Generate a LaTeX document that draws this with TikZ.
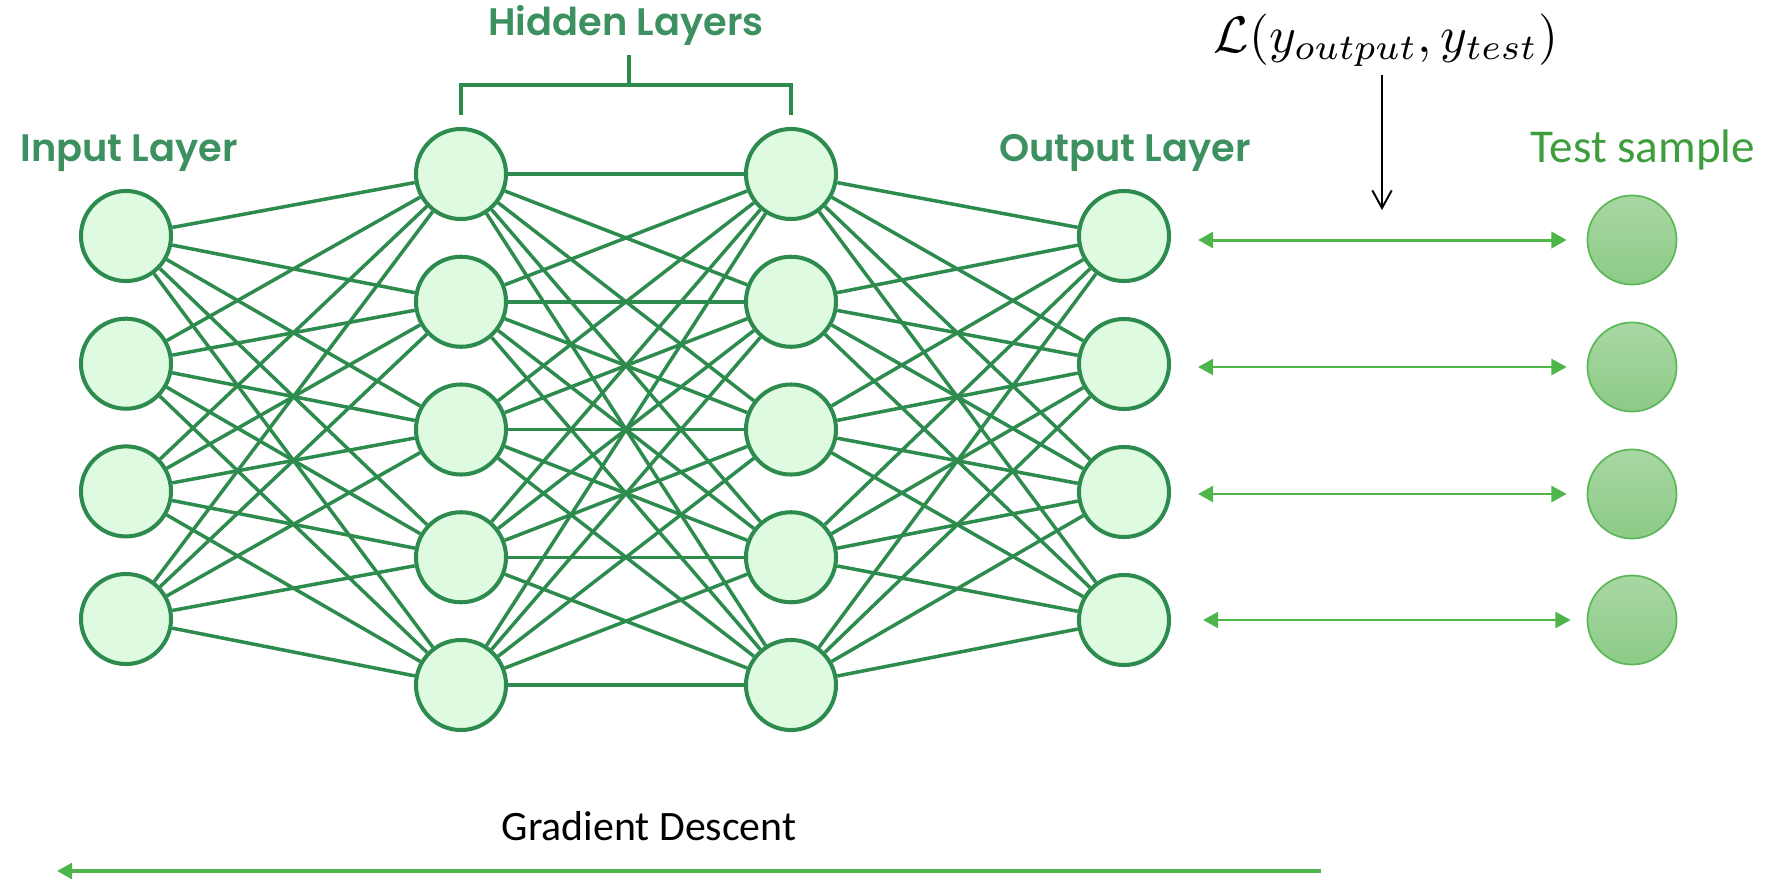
\documentclass[tikz,border=0pt]{standalone}
\usepackage{fontspec}
\usepackage{graphicx}
\usetikzlibrary{arrows.meta,backgrounds}
\newfontfamily\layerfont{Poppins SemiBold}
\newfontfamily\calfont{Carlito}
\definecolor{netgreen}{HTML}{2E8B4E}
\definecolor{labelgreen}{HTML}{3D9160}
\definecolor{nodefill}{HTML}{DEFBE2}
\definecolor{arrowgreen}{HTML}{4DB54A}
\definecolor{sampletop}{HTML}{A9D7A3}
\definecolor{samplebot}{HTML}{8CCB86}
\definecolor{sampleedge}{HTML}{5DB85A}
\definecolor{sampletext}{HTML}{3E9E3E}
\begin{document}
\begin{tikzpicture}[x=0.01cm,y=-0.01cm,
  neuron/.style={circle, draw=netgreen, line width=1.15pt, fill=nodefill,
    minimum size=0.9cm, inner sep=0pt},
  sample/.style={circle, draw=sampleedge, line width=0.5pt,
    top color=sampletop, bottom color=samplebot, minimum size=0.89cm, inner sep=0pt},
  link/.style={netgreen, line width=1pt},
  layerlabel/.style={font=\layerfont\fontsize{10.9}{13}\selectfont,
    text=labelgreen, anchor=base, inner sep=0pt},
  plainlabel/.style={anchor=base, inner sep=0pt},
  compare/.style={arrowgreen,
    {Triangle[length=4.3pt,width=4.6pt]}-{Triangle[length=4.3pt,width=4.6pt]}}
]
\useasboundingbox (0,0) rectangle (1781,878);

% input layer
\foreach \k/\y in {1/236,2/363.7,3/491.4,4/619}
  \node[neuron] (i\k) at (126,\y) {};
% two hidden layers
\foreach \k/\y in {1/174,2/301.75,3/429.5,4/557.25,5/685} {
  \node[neuron] (h\k) at (461,\y) {};
  \node[neuron] (g\k) at (791,\y) {};
}
% output layer
\foreach \k/\y in {1/236,2/364,3/492,4/620}
  \node[neuron] (o\k) at (1124,\y) {};
% test samples
\foreach \k/\y in {1/240,2/367,3/494,4/620}
  \node[sample] (s\k) at (1632,\y) {};

% full connections between consecutive layers
\begin{scope}[on background layer]
  \foreach \a in {1,...,4}
    \foreach \b in {1,...,5}
      \draw[link] (i\a) -- (h\b);
  \foreach \a in {1,...,5}
    \foreach \b in {1,...,5}
      \draw[link] (h\a) -- (g\b);
  \foreach \a in {1,...,5}
    \foreach \b in {1,...,4}
      \draw[link] (g\a) -- (o\b);
\end{scope}

% bracket over the hidden layers
\draw[netgreen, line width=1pt] (461,115) -- (461,85) -- (791,85) -- (791,115);
\draw[netgreen, line width=1pt] (629,85) -- (629,55);

% layer titles
\node[layerlabel] (inlab) at (129,161) {Input Layer};
\node[layerlabel] (hidlab) at (626,35) {Hidden Layers};
\node[layerlabel] (outlab) at (1125,161) {Output Layer};
\node[plainlabel, font=\calfont\fontsize{13.4}{16}\selectfont, text=sampletext]
  (testlab) at (1643,162) {Test sample};

% loss between prediction and test sample
\node[plainlabel] (loss) at (1386,52)
  {\scalebox{1.46}{$\mathcal{L}(y_{output},y_{test})$}};
\coordinate (losstail) at (1382,75);
\coordinate (losshead) at (1382,210);
\draw[black, line width=0.55pt, -{Straight Barb[length=5pt,width=5.5pt]}]
  (losstail) -- (losshead);

% comparison arrows
\foreach \k/\w/\sa/\sb in {1/0.85pt/0.27cm/0.2cm, 2/0.55pt/0.27cm/0.2cm,
                           3/0.55pt/0.27cm/0.2cm, 4/0.55pt/0.32cm/0.16cm}
  \draw[compare, line width=\w, shorten <=\sa, shorten >=\sb]
    (o\k.east |- s\k.west) -- (s\k.west);

% gradient descent
\node[plainlabel, font=\calfont\fontsize{11.9}{14}\selectfont] (gd) at (649,840)
  {Gradient Descent};
\coordinate (gdstart) at (1321,871);
\coordinate (gdend) at (57,871);
\draw[arrowgreen, line width=1pt, -{Triangle[length=4.3pt,width=4.5pt]}]
  (gdstart) -- (gdend);
\end{tikzpicture}
\end{document}
